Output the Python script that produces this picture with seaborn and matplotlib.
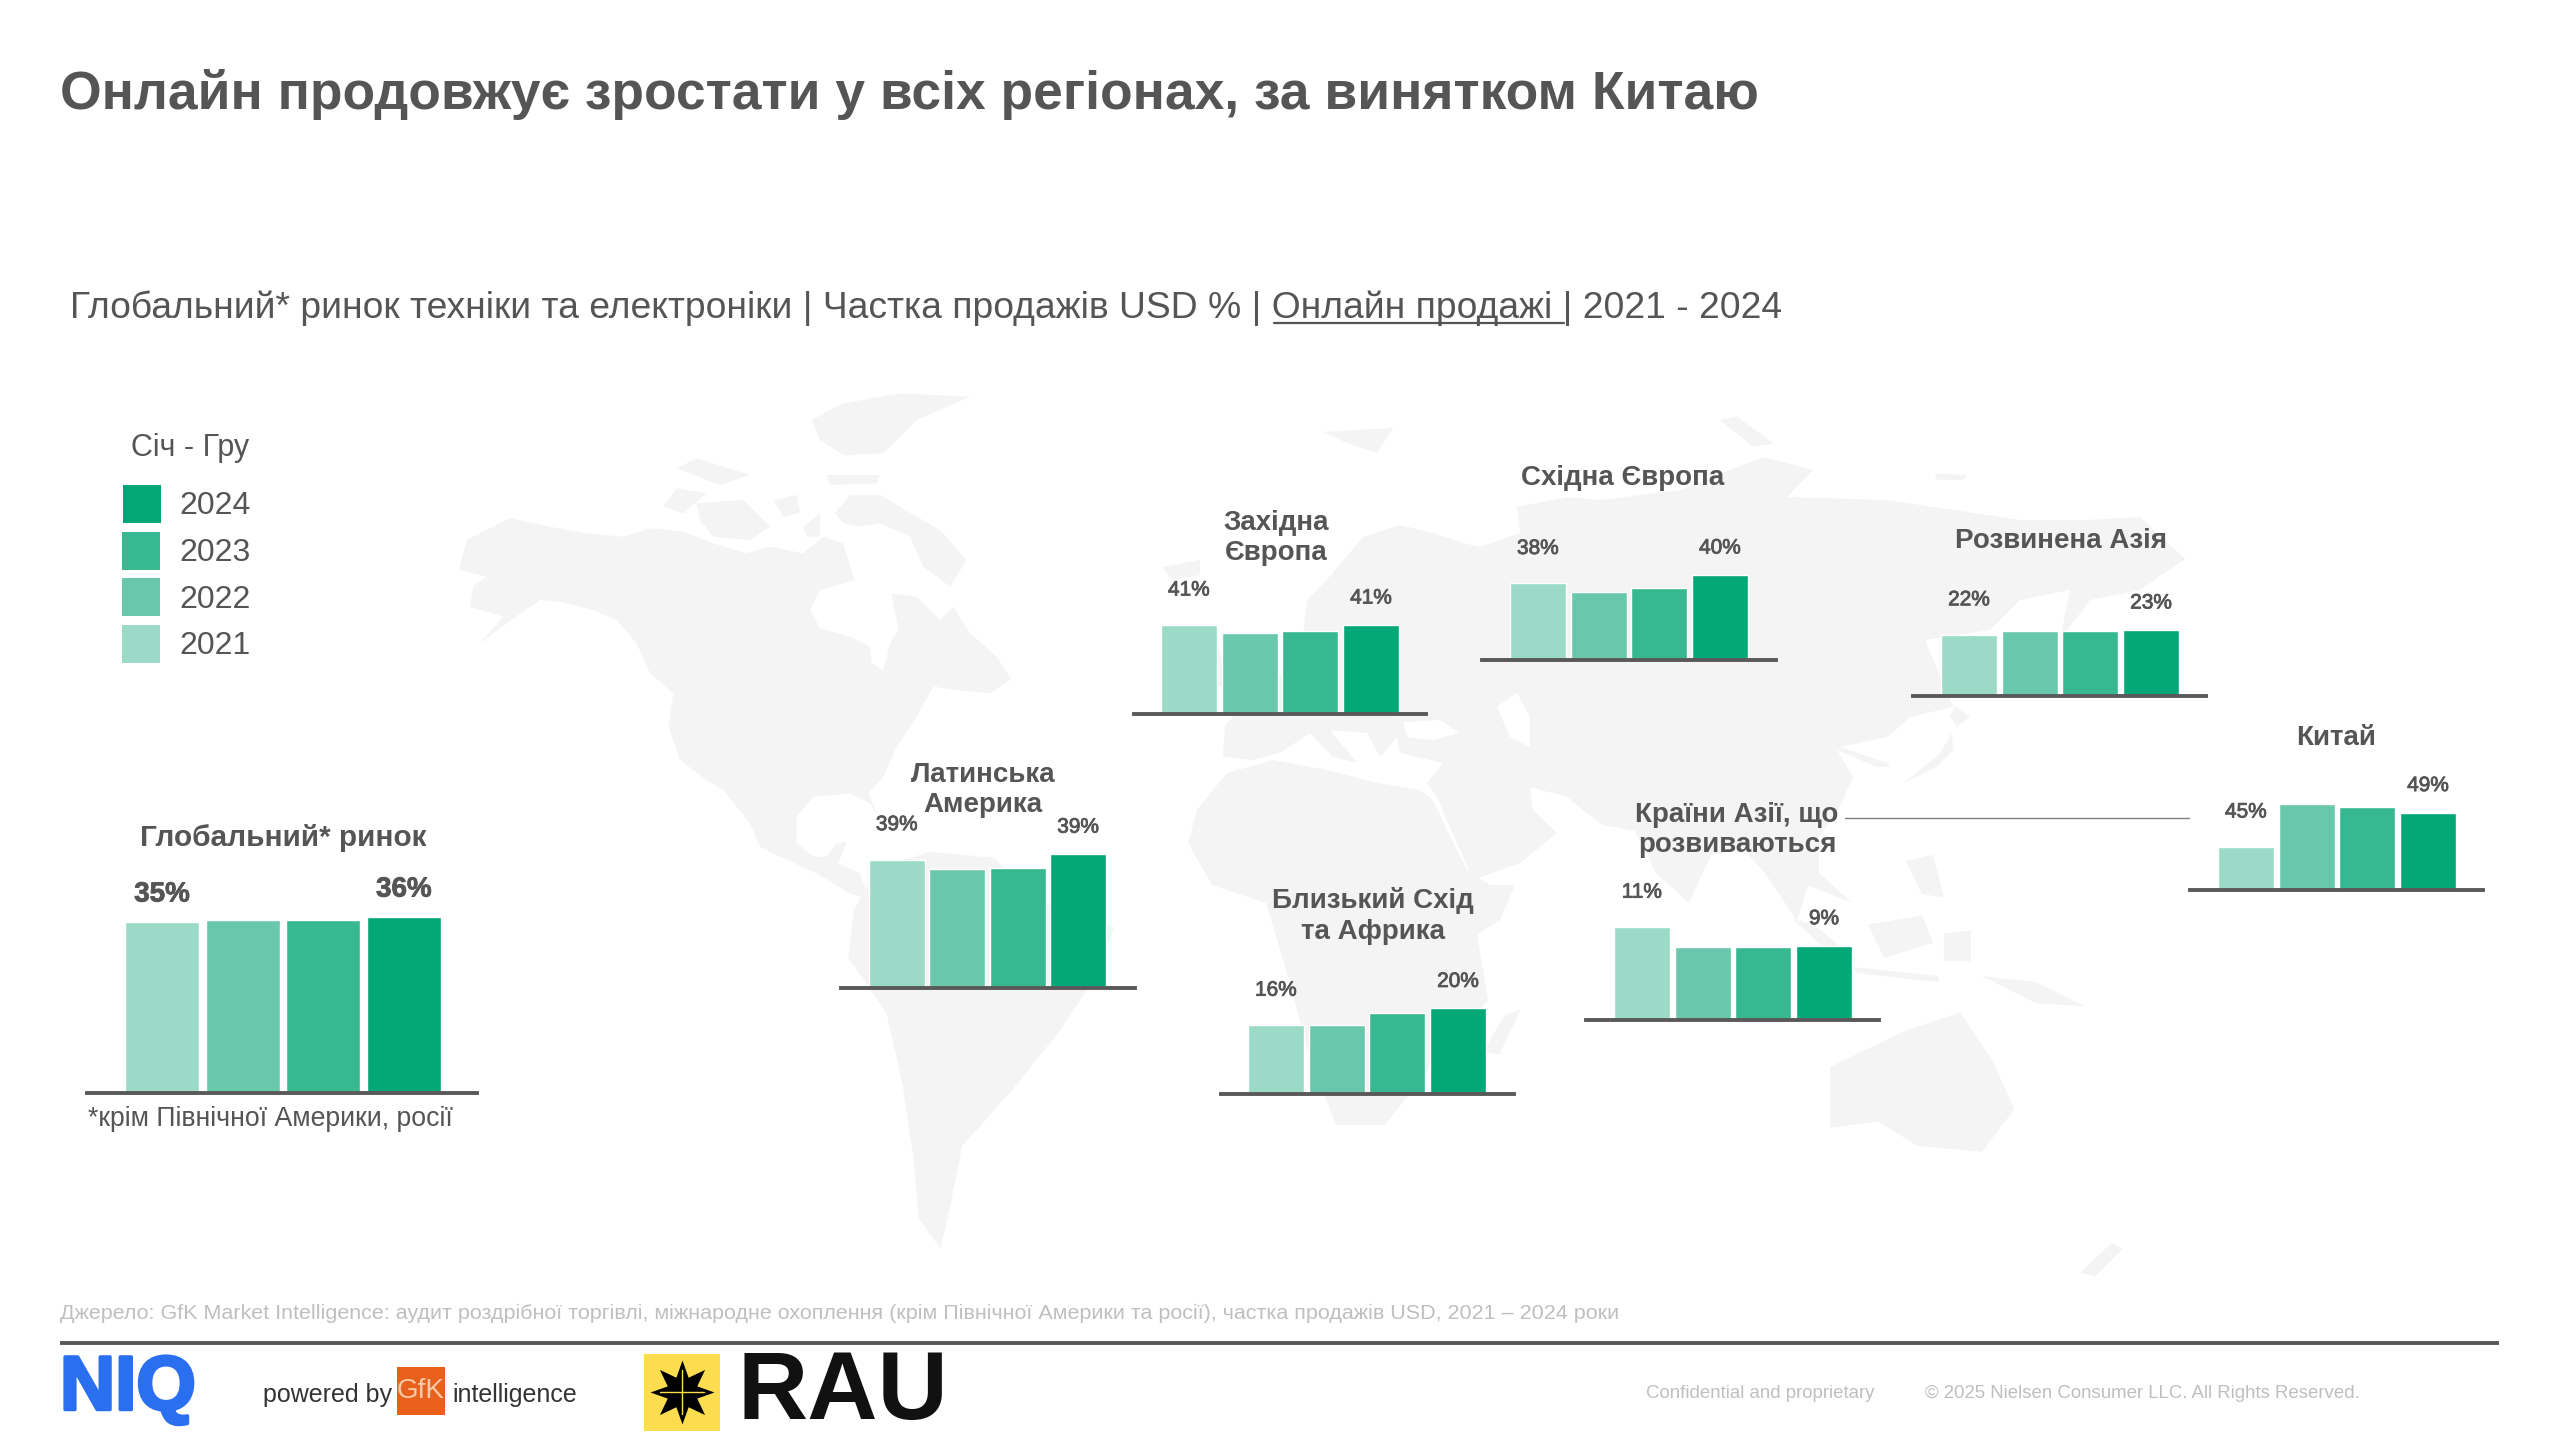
import matplotlib
matplotlib.use('Agg')
import matplotlib.pyplot as plt
import matplotlib.patheffects as pe
from matplotlib.patches import Polygon, Rectangle
import pandas as pd
import seaborn as sns

W, H = 2560, 1440

years = ['2021', '2022', '2023', '2024']
colors = ['#9adac6', '#69c8ab', '#38b890', '#04a777']

global_vals = [35, 35.3, 35.3, 36]
latam_vals = [38.6, 37.3, 37.4, 39.4]
west_eu_vals = [41, 37.2, 38.1, 41]
east_eu_vals = [38, 36, 37, 40]
dev_asia_vals = [21.5, 22.7, 22.7, 23.2]
china_vals = [45, 50, 49.6, 49]
em_asia_vals = [11, 8.7, 8.7, 8.8]
mea_vals = [16, 16.1, 18.9, 19.9]

global_labels = ['35%', '36%']
latam_labels = ['39%', '39%']
west_eu_labels = ['41%', '41%']
east_eu_labels = ['38%', '40%']
dev_asia_labels = ['22%', '23%']
china_labels = ['45%', '49%']
em_asia_labels = ['11%', '9%']
mea_labels = ['16%', '20%']

# vals, labels, axis line x0/x1, bars x0/x1, baseline y, axis floor, px per %
panels = [
    (latam_vals, latam_labels, 841, 1135, 869, 1106, 988, 20, 6.9),
    (west_eu_vals, west_eu_labels, 1134, 1426, 1161, 1399, 714, 0, 2.17),
    (east_eu_vals, east_eu_labels, 1482, 1776, 1510, 1748, 660, 20, 4.25),
    (dev_asia_vals, dev_asia_labels, 1913, 2206, 1941, 2179, 696, 0, 2.845),
    (china_vals, china_labels, 2190, 2483, 2218, 2456, 890, 40, 8.6),
    (em_asia_vals, em_asia_labels, 1586, 1879, 1614, 1852, 1020, 0, 8.44),
    (mea_vals, mea_labels, 1221, 1514, 1248, 1486, 1094, 0, 4.3),
]

# panel titles: text, centre x, centre y
panel_titles = [
    ('Латинська\nАмерика', 983, 790),
    ('Західна\nЄвропа', 1276, 538),
    ('Східна Європа', 1623, 478),
    ('Розвинена Азія', 2061, 541),
    ('Китай', 2336, 738),
    ('Країни Азії, що\nрозвиваються', 1737, 830),
    ('Близький Схід\nта Африка', 1373, 916),
]


def crop_a(pts):
    return [(450 + x / 3, 380 + y / 3) for x, y in pts]


def crop_c(pts):
    return [(1620 + x / 3, 400 + y / 3) for x, y in pts]


def crop_wide(pts):
    return [(420 + x / 0.922, 370 + y / 1.65) for x, y in pts]


# rough world outline, only a pale backdrop
north_america = crop_a([(30,555),(50,480),(180,415),(300,440),(410,460),(520,470),(600,445),(700,455),(790,490),
    (890,520),(960,500),(1060,520),(1120,470),(1180,490),(1200,560),(1215,600),(1110,630),(1080,690),(1110,745),
    (1200,770),(1260,800),(1265,850),(1300,870),(1320,790),(1345,750),(1325,640),(1400,650),(1470,720),(1510,680),
    (1560,760),(1640,830),(1683,897),(1620,940),(1520,930),(1450,920),(1400,1010),(1340,1100),(1300,1190),
    (1255,1240),(1285,1310),(1260,1270),(1200,1240),(1090,1250),(1040,1310),(1040,1390),(1090,1430),(1130,1430),
    (1160,1390),(1190,1385),(1165,1450),(1230,1480),(1260,1560),(1200,1540),(1100,1480),(990,1430),(930,1400),
    (900,1330),(820,1230),(770,1200),(690,1140),(655,1040),(670,940),(600,880),(560,790),(500,720),(430,690),
    (330,665),(270,660),(170,730),(90,790),(160,710),(60,680),(70,620),(110,590),(30,570)])
baffin = crop_a([(1155,400),(1200,345),(1290,345),(1400,410),(1470,450),(1550,540),(1500,620),(1420,560),(1380,470),
                 (1290,430),(1230,440),(1180,430)])
victoria = crop_a([(740,370),(880,360),(960,440),(900,480),(790,470),(750,420)])
banks = crop_a([(640,380),(680,325),(770,340),(700,400)])
somerset = crop_a([(970,360),(1040,345),(1050,400),(1000,410)])
parry = crop_a([(680,265),(740,235),(900,285),(810,315)])
ellesmere = crop_a([(1085,120),(1180,70),(1350,40),(1560,50),(1400,120),(1300,220),(1180,225),(1110,180)])
devon = crop_a([(1130,285),(1290,285),(1280,310),(1140,315)])
southampton = crop_a([(1060,440),(1110,400),(1110,470),(1070,470)])
south_america = crop_wide([(425,820),(470,795),(530,805),(560,870),(640,920),(620,1010),(590,1090),(545,1190),
                           (500,1280),(490,1370),(480,1450),(460,1400),(455,1300),(445,1180),(430,1060),(395,970),
                           (400,890)])
africa = [(1188,843),(1197,810),(1227,773),(1273,760),(1327,770),(1377,783),(1420,790),(1433,800),(1447,830),
          (1467,870),(1490,885),(1515,885),(1500,920),(1477,934),(1488,1000),(1440,1055),(1385,1125),(1336,1125),
          (1309,1055),(1288,976),(1266,903),(1212,885)]
madagascar = crop_wide([(1000,1065),(1015,1055),(995,1130),(980,1125)])
eurasia = [(1223,757),(1225,725),(1250,700),(1300,660),(1307,600),(1333,573),(1363,537),(1400,525),(1433,533),
           (1463,543),(1480,547),(1520,533),(1517,507),(1567,497),(1600,500),(1680,490),(1763,457),(1813,470),
           (1787,497),(1887,500),(1953,510),(2020,520),(2087,520),(2140,517),(2185,559),(2140,590),(2090,600),
           (2060,640),(2070,590),(2020,600),(1990,630),(1925,640),(1953,707),(1910,717),(1887,737),(1840,747),
           (1887,763),(1890,767),(1877,767),(1837,750),(1853,777),(1837,813),(1819,837),(1819,873),(1852,903),
           (1808,885),(1797,921),(1765,873),(1743,849),(1711,855),(1689,903),(1656,873),(1635,831),(1602,825),
           (1567,797),(1530,787),(1533,810),(1557,833),(1520,863),(1473,880),(1437,797),(1427,783),(1443,763),
           (1400,753),(1397,737),(1380,757),(1367,733),(1330,730),(1357,763),(1333,757),(1310,733),(1280,753),
           (1253,760)]
black_sea = [(1403,722),(1440,720),(1460,733),(1433,740),(1407,737)]
caspian = [(1497,707),(1517,693),(1530,717),(1530,747),(1510,737)]
britain = crop_wide([(710,470),(735,450),(745,520),(715,530)])
iceland = [(1162,567),(1200,560),(1200,575),(1172,580)]
svalbard = [(1323,432),(1357,430),(1393,428),(1377,453),(1347,443)]
novaya_zemlya = crop_c([(300,60),(350,50),(460,130),(400,140)])
new_siberia = crop_c([(945,220),(1040,225),(1030,240),(950,240)])
sakhalin = crop_c([(1005,920),(1050,950),(1010,980),(990,950)])
japan = crop_c([(850,1150),(960,1060),(995,1000),(1000,1050),(950,1100)])
sumatra = crop_wide([(1265,905),(1285,915),(1325,975),(1305,970)])
java = crop_wide([(1320,985),(1400,1000),(1400,1010),(1325,995)])
borneo = crop_wide([(1335,915),(1385,900),(1395,945),(1350,970)])
sulawesi = crop_wide([(1405,930),(1430,925),(1430,975),(1405,975)])
new_guinea = crop_wide([(1440,1000),(1490,1010),(1535,1050),(1490,1045)])
philippines = crop_wide([(1370,810),(1395,800),(1405,870),(1385,865)])
australia = crop_wide([(1300,1150),(1370,1090),(1420,1060),(1450,1140),(1470,1220),(1440,1290),(1380,1280),
                       (1345,1240),(1300,1250)])
new_zealand = crop_wide([(1530,1490),(1560,1440),(1570,1450),(1545,1495)])
land = [north_america, baffin, victoria, banks, somerset, parry, ellesmere, devon, southampton, south_america,
        africa, madagascar, eurasia, britain, iceland, svalbard, novaya_zemlya, new_siberia, sakhalin, japan,
        sumatra, java, borneo, sulawesi, new_guinea, philippines, australia, new_zealand]
water = [black_sea, caspian]

sns.set_theme(style='white')
plt.rcParams['font.family'] = ['Liberation Sans', 'DejaVu Sans']
text_col = '#555555'
line_col = '#595959'

fig = plt.figure(figsize=(W / 100, H / 100), dpi=100)
bg = fig.add_axes([0, 0, 1, 1], zorder=0)
bg.set_xlim(0, W)
bg.set_ylim(H, 0)
bg.axis('off')

for shape in land:
    bg.add_patch(Polygon(shape, closed=True, facecolor='#f4f4f4', edgecolor='none', zorder=0))
for shape in water:
    bg.add_patch(Polygon(shape, closed=True, facecolor='white', edgecolor='none', zorder=0.5))


def draw_panel(vals, labels, ax_x0, ax_x1, bar_x0, bar_x1, base_y, floor, px_per, label_size, weight, offsets, ax_h=190):
    ax = fig.add_axes([ax_x0 / W, 1 - base_y / H, (ax_x1 - ax_x0) / W, ax_h / H], zorder=1)
    ax.patch.set_alpha(0)
    df = pd.DataFrame({'year': years, 'share': vals})
    sns.barplot(data=df, x='year', y='share', hue='year', palette=colors, dodge=False,
                width=0.92, legend=False, saturation=1, ax=ax)
    step = (bar_x1 - bar_x0) / 3.92
    ax.set_xlim(-0.46 - (bar_x0 - ax_x0) / step, 3.46 + (ax_x1 - bar_x1) / step)
    ax.set_ylim(floor, floor + ax_h / px_per)
    ax.set(xlabel='', ylabel='', xticks=[], yticks=[])
    sns.despine(ax=ax, left=True)
    ax.spines['bottom'].set_color(line_col)
    ax.spines['bottom'].set_linewidth(2.8)
    for i, lab, off in zip([0, 3], labels, offsets):
        ax.annotate(lab, xy=(i, vals[i]), xytext=(0, off), textcoords='offset pixels',
                    ha='center', va='center', fontsize=label_size, fontweight=weight, color=text_col,
                    annotation_clip=False, path_effects=[pe.withStroke(linewidth=0.6, foreground=text_col)])


draw_panel(global_vals, global_labels, 87, 477, 125, 441, 1093, 0, 4.9, 20, 'bold', (27, 27), ax_h=230)
for p in panels:
    draw_panel(*p, 15, 'normal', (35, 27))

# panel headings
bg.text(283, 838, 'Глобальний* ринок', ha='center', va='center', fontsize=21.4, fontweight='bold', color=text_col)
for txt, cx, cy in panel_titles:
    bg.text(cx, cy, txt, ha='center', va='center', fontsize=20, fontweight='bold', color=text_col,
            linespacing=1.25)
bg.plot([1845, 2189], [817.5, 817.5], color='#7f7f7f', lw=1)

# legend
bg.text(131, 448, 'Січ - Гру', ha='left', va='center', fontsize=22, color=text_col)
for yr, col, sx, sy, ty in zip(years[::-1], colors[::-1], [123, 122, 122, 122],
                               [485, 532, 578, 625], [506, 553, 600, 646]):
    bg.add_patch(Rectangle((sx, sy), 38, 38, facecolor=col, edgecolor='none'))
    bg.text(179, ty, yr, ha='left', va='center', fontsize=23, color=text_col)

# headings
bg.text(60, 95, 'Онлайн продовжує зростати у всіх регіонах, за винятком Китаю', ha='left', va='center',
        fontsize=38.4, fontweight='bold', color=text_col)
bg.text(70, 308, 'Глобальний* ринок техніки та електроніки | Частка продажів USD % | Онлайн продажі | 2021 - 2024',
        ha='left', va='center', fontsize=26.8, color=text_col)
bg.plot([1274, 1564], [323, 323], color=text_col, lw=1.6)

# notes and footer
bg.text(88, 1119, '*крім Північної Америки, росії', ha='left', va='center', fontsize=19.2, color=text_col)
bg.text(60, 1313, 'Джерело: GfK Market Intelligence: аудит роздрібної торгівлі, міжнародне охоплення '
        '(крім Північної Америки та росії), частка продажів USD, 2021 – 2024 роки',
        ha='left', va='center', fontsize=15.45, color='#bfbfbf')
bg.plot([60, 2499], [1343, 1343], color=line_col, lw=2.8, solid_capstyle='butt')
bg.text(1646, 1393, 'Confidential and proprietary', ha='left', va='center', fontsize=13.4, color='#bfbfbf')
bg.text(1925, 1393, '© 2025 Nielsen Consumer LLC. All Rights Reserved.', ha='left', va='center',
        fontsize=13.45, color='#bfbfbf')

# logos
bg.text(60, 1390, 'NIQ', ha='left', va='center', fontsize=55, fontweight='bold', color='#2a6fef',
        path_effects=[pe.withStroke(linewidth=2.5, foreground='#2a6fef')])
bg.text(263, 1395, 'powered by', ha='left', va='center', fontsize=18, color='#333333')
bg.add_patch(Rectangle((397, 1367), 48, 48, facecolor='#e8601c', edgecolor='none'))
bg.text(421, 1391, 'GfK', ha='center', va='center', fontsize=20, color='#f7c9a8')
bg.text(452, 1395, 'intelligence', ha='left', va='center', fontsize=18, color='#333333')
bg.add_patch(Rectangle((644, 1354), 76, 77, facecolor='#fbdd4f', edgecolor='none'))
bg.plot([682], [1392], marker=(8, 1, 0), ms=46, color='black', mew=0)
bg.plot([682, 682], [1370, 1414], color='#fbdd4f', lw=1)
bg.plot([660, 704], [1392, 1392], color='#fbdd4f', lw=1)
bg.text(738, 1394, 'RAU', ha='left', va='center', fontsize=70, fontweight='bold', color='#111111')

plt.savefig('out.png', dpi=100)
